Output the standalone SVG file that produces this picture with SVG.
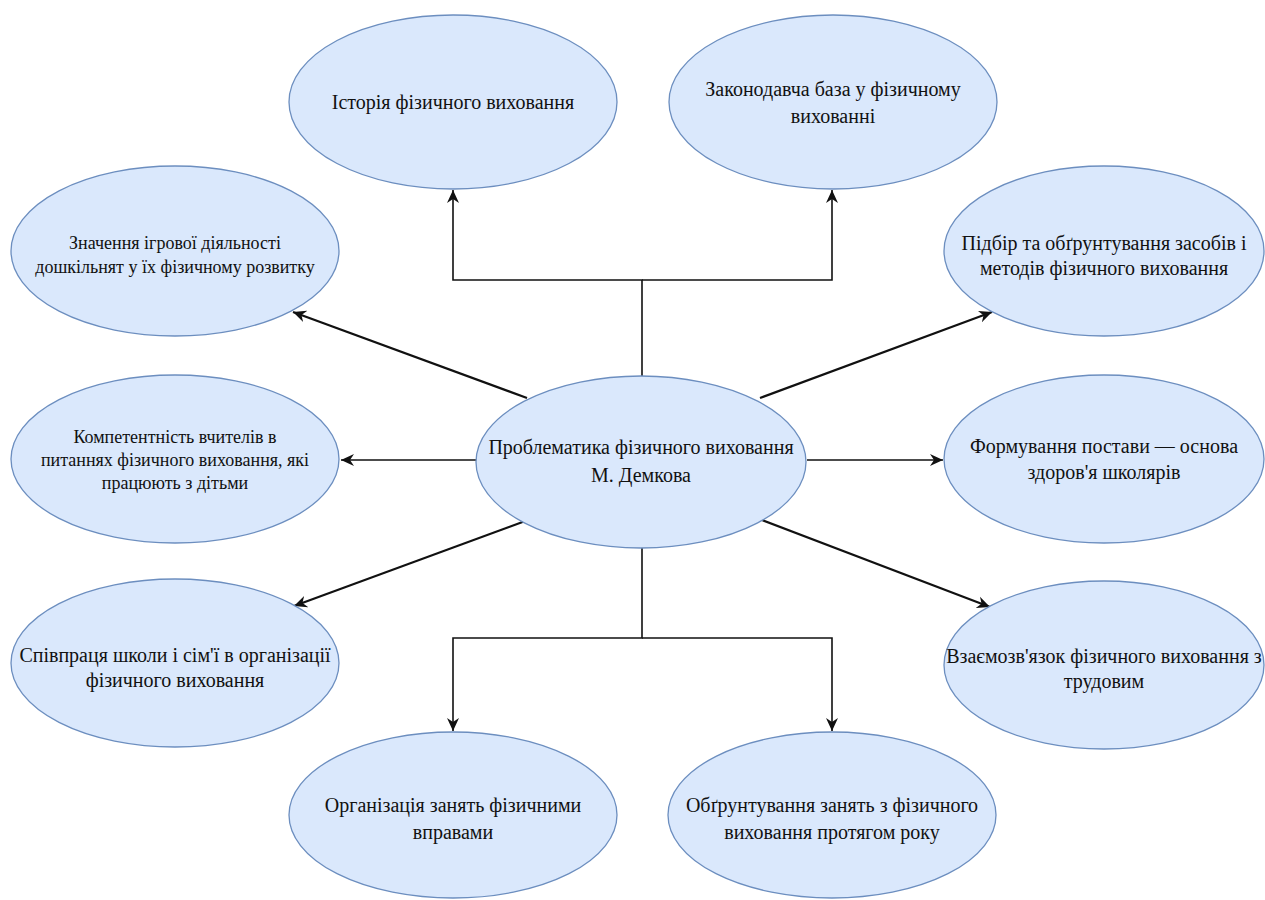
<svg xmlns="http://www.w3.org/2000/svg" width="1265" height="900" viewBox="0 0 1265 900" font-family="Liberation Serif, Times New Roman, DejaVu Serif, serif">
<style>
.node ellipse{fill:#dae8fc;stroke:#6c8ebf;stroke-width:1.3}
.node text{font-family:'Liberation Serif','Times New Roman','DejaVu Serif',serif;font-size:20px;fill:#111;text-anchor:middle;dominant-baseline:central}
.node text.s{font-size:18px}
.conn path{fill:none;stroke:#111;stroke-width:1.6}
.conn path.d{stroke-width:2.2}
</style>
<defs>
<marker id="arr" markerUnits="userSpaceOnUse" markerWidth="14" markerHeight="14" viewBox="0 0 14 14" refX="13" refY="7" orient="auto">
<path d="M0,1 L13,7 L0,13 L4,7 z" fill="#111"/>
</marker>
</defs>
<rect width="1265" height="900" fill="#fff"/>
<g id="connectors" class="conn">
<path d="M642,376 V280 H453 V190" marker-end="url(#arr)"/>
<path d="M642,280 H832 V190" marker-end="url(#arr)"/>
<path d="M642,548 V638 H453 V731" marker-end="url(#arr)"/>
<path d="M642,638 H832 V731" marker-end="url(#arr)"/>
<path class="d" d="M527,398 L293,312" marker-end="url(#arr)"/>
<path d="M478,460 L341,460" marker-end="url(#arr)"/>
<path class="d" d="M760,398 L992,312" marker-end="url(#arr)"/>
<path d="M807,460 L943,460" marker-end="url(#arr)"/>
<path class="d" d="M528,520 L294,606" marker-end="url(#arr)"/>
<path class="d" d="M762,520 L990,607" marker-end="url(#arr)"/>
</g>
<g id="node-history" class="node" font-family="Liberation Serif, serif">
<ellipse cx="453" cy="102" rx="164" ry="87"/>
<text x="453" y="102">Історія фізичного виховання</text>
</g>
<g id="node-law" class="node" font-family="Liberation Serif, serif">
<ellipse cx="833" cy="102" rx="164" ry="87"/>
<text x="833" y="89">Законодавча база у фізичному</text>
<text x="833" y="116">вихованні</text>
</g>
<g id="node-play" class="node" font-family="Liberation Serif, serif">
<ellipse cx="175" cy="251" rx="164" ry="85"/>
<text class="s" x="175" y="243">Значення ігрової діяльності</text>
<text class="s" x="175" y="267">дошкільнят у їх фізичному розвитку</text>
</g>
<g id="node-select" class="node" font-family="Liberation Serif, serif">
<ellipse cx="1104" cy="251" rx="160" ry="85"/>
<text x="1104" y="243">Підбір та обґрунтування засобів і</text>
<text x="1104" y="268">методів фізичного виховання</text>
</g>
<g id="node-competence" class="node" font-family="Liberation Serif, serif">
<ellipse cx="175" cy="459" rx="164" ry="84"/>
<text class="s" x="175" y="437">Компетентність вчителів в</text>
<text class="s" x="175" y="460">питаннях фізичного виховання, які</text>
<text class="s" x="175" y="483">працюють з дітьми</text>
</g>
<g id="node-center" class="node" font-family="Liberation Serif, serif">
<ellipse cx="641" cy="462" rx="165" ry="86"/>
<text x="641" y="447">Проблематика фізичного виховання</text>
<text x="641" y="475">М. Демкова</text>
</g>
<g id="node-posture" class="node" font-family="Liberation Serif, serif">
<ellipse cx="1104" cy="459" rx="160" ry="84"/>
<text x="1104" y="446">Формування постави — основа</text>
<text x="1104" y="472">здоров'я школярів</text>
</g>
<g id="node-coop" class="node" font-family="Liberation Serif, serif">
<ellipse cx="175" cy="663" rx="164" ry="84"/>
<text x="175" y="655">Співпраця школи і сім'ї в організації</text>
<text x="175" y="680">фізичного виховання</text>
</g>
<g id="node-labor" class="node" font-family="Liberation Serif, serif">
<ellipse cx="1104" cy="665" rx="160" ry="84"/>
<text x="1104" y="656">Взаємозв'язок фізичного виховання з</text>
<text x="1104" y="681">трудовим</text>
</g>
<g id="node-org" class="node" font-family="Liberation Serif, serif">
<ellipse cx="453" cy="815" rx="164" ry="83"/>
<text x="453" y="805">Організація занять фізичними</text>
<text x="453" y="832">вправами</text>
</g>
<g id="node-justify" class="node" font-family="Liberation Serif, serif">
<ellipse cx="832" cy="815" rx="164" ry="83"/>
<text x="832" y="805">Обґрунтування занять з фізичного</text>
<text x="832" y="832">виховання протягом року</text>
</g>
</svg>
